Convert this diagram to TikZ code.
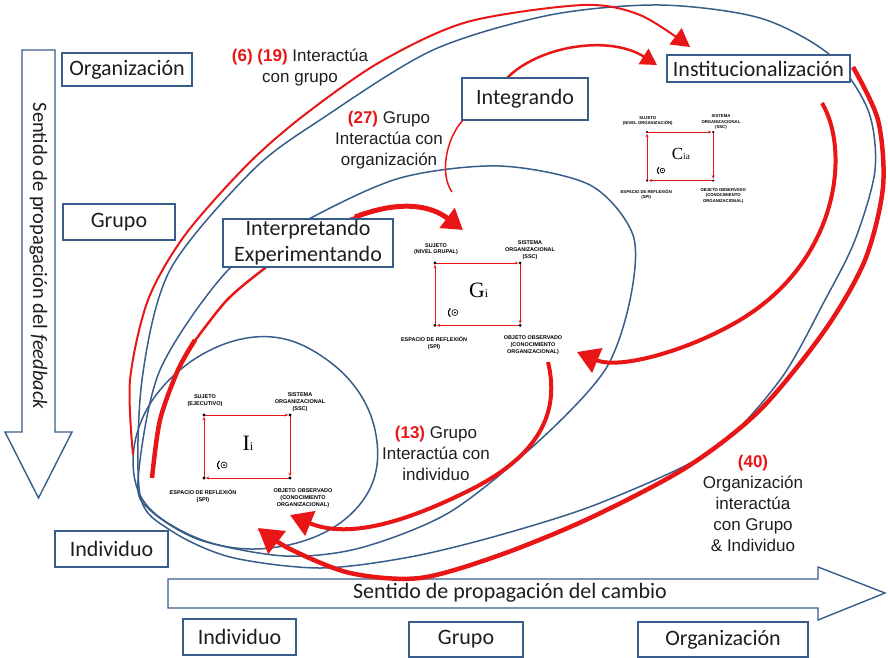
\documentclass[tikz,border=0pt]{standalone}
\usepackage{fontspec}
\setmainfont{Liberation Sans}
\newfontfamily\boxfont{Carlito}
\newfontfamily\serifname{Liberation Serif}
\usetikzlibrary{arrows.meta}
\definecolor{bl}{RGB}{56,93,138}
\definecolor{rd}{RGB}{232,22,22}
\definecolor{txt}{RGB}{30,30,30}
\newcommand\quadfig[7]{%
\begin{scope}[shift={(#1,#2)}, scale=#3, transform shape]
 \draw[qarrow] (0,0) -- (86,0);
 \draw[qarrow] (86,0) -- (86,63);
 \draw[qarrow] (86,63) -- (0,63);
 \draw[qarrow] (0,63) -- (0,0);
 \foreach \p in {(0,0),(86,0),(0,63),(86,63)} \fill \p circle (1.6);
 \node[tinylbl] (#7s) at (1,-14) {SUJETO\\(#4)};
 \node[tinylbl] (#7o) at (96,-13) {SISTEMA\\ORGANIZACIONAL\\(SSC)};
 \node[tinylbl] (#7e) at (-1,81) {ESPACIO DE REFLEXIÓN\\(SPI)};
 \node[tinylbl] (#7b) at (99,83) {OBJETO OBSERVADO\\(CONOCIMIENTO\\ORGANIZACIONAL)};
 \node[inner sep=0pt] (#7c) at (44,28) {\serifname\fontsize{22}{22}\selectfont #5{\fontsize{12}{12}\selectfont #6}};
 \draw[line width=1.1pt] (19,50) ++(130:5.5) arc[start angle=130, end angle=230, radius=5.5];
 \draw[line width=0.6pt] (20,50) circle (3);
 \fill (20,50) circle (1);
\end{scope}}
\begin{document}
\begin{tikzpicture}[x=1pt,y=-1pt,
 box/.style={draw=bl, line width=1.4pt, fill=white, font=\boxfont\fontsize{22}{26}\selectfont, inner sep=0pt, align=center, text=txt},
 bcurve/.style={draw=bl, line width=1.5pt},
 rcurve/.style={draw=rd, line width=2pt},
 lbl/.style={font=\fontsize{17}{21}\selectfont, align=center, text=txt},
 tinylbl/.style={font=\bfseries\fontsize{5.5}{6.8}\selectfont, align=center, inner sep=0pt},
 qarrow/.style={draw=rd, line width=0.9pt, -{Stealth[length=3.5pt,width=3pt]}, shorten >=1.8pt},
 bigarrow/.style={draw=bl, line width=1.4pt, fill=white},
 ]
\useasboundingbox (0,0) rectangle (888,657);

% big direction arrows
\draw[bigarrow] (22,50) -- (55,50) -- (55,432) -- (72,432) -- (38.5,498) -- (5,432) -- (22,432) -- cycle;
\node[rotate=-90, font=\boxfont\fontsize{20.5}{24}\selectfont, text=txt] (feedback) at (38.5,256) {Sentido de propagación del \textit{feedback}};
\draw[bigarrow] (168,579) -- (818,579) -- (818,567) -- (885,593) -- (818,620) -- (818,608) -- (168,608) -- cycle;
\node[font=\boxfont\fontsize{22}{26}\selectfont, text=txt] (cambio) at (510,593) {Sentido de propagación del cambio};

% blue ellipses
\draw[bcurve] plot[smooth cycle, tension=0.7] coordinates {(247,338) (330,362) (376,435) (355,510) (270,548) (180,530) (134,475) (160,390)};
\draw[bcurve] plot[smooth cycle] coordinates {(138,480) (160,370) (230,268) (307,220) (400,178) (500,166) (590,185) (633,235) (630,300) (605,370) (540,440) (450,512) (360,548) (285,556) (200,540) (150,510)};
\draw[bcurve] plot[smooth cycle] coordinates {(140,495) (142,380) (170,270) (253,170) (323,118) (433,50) (550,15) (660,5) (760,18) (830,55) (868,110) (875,170) (855,240) (825,300) (780,380) (713,450) (600,503) (500,535) (410,557) (320,568) (230,557) (170,530)};

% red curves
\draw[rcurve, -{Triangle[length=18pt,width=20pt]}] plot[smooth] coordinates {(133,455) (130,380) (148,300) (185,235) (247,165) (303,116) (380,62) (467,22) (583,5) (640,15) (690,47)};
\draw[rd, line width=4.5pt] plot[smooth] coordinates {(152,478) (160,420) (178,370) (195,340)};
\draw[rd, line width=2.5pt] plot[smooth] coordinates {(194,342) (227,300) (265,268) (310,235) (356,217)};
\draw[rd, line width=5pt, -{Triangle[length=20pt,width=24pt]}] (355,217) .. controls (400,200) and (430,205) .. (463,230);
\draw[rd, line width=2.5pt, -{Triangle[length=16pt,width=18pt]}] (507,78) .. controls (540,45) and (610,35) .. (657,65);
\draw[rd, line width=1.5pt] (463,120) .. controls (445,140) and (440,175) .. (452,192);
\draw[rd, line width=4pt, -{Triangle[length=22pt,width=26pt]}] (822,103) .. controls (850,150) and (840,260) .. (740,320) .. controls (690,350) and (620,370) .. (577,352);
\draw[rd, line width=4pt, -{Triangle[length=22pt,width=26pt]}] (548,362) .. controls (562,420) and (530,460) .. (470,490) .. controls (410,520) and (350,540) .. (290,515);
\draw[rd, line width=4.5pt, -{Triangle[length=24pt,width=28pt]}] plot[smooth] coordinates {(853,67) (878,120) (883,187) (865,260) (825,330) (760,410) (687,467) (590,518) (500,555) (420,578) (350,573) (290,549) (258,528)};

% boxes
\node[box, minimum width=130, minimum height=33] (orgL) at (127,69.5) {Organización};
\node[box, minimum width=112, minimum height=36] (grupoL) at (119,222) {Grupo};
\node[box, minimum width=113, minimum height=36] (indivL) at (111.5,549) {Individuo};
\node[box, minimum width=113, minimum height=36] (indivB) at (239.5,637) {Individuo};
\node[box, minimum width=114, minimum height=35] (grupoB) at (466,639.5) {Grupo};
\node[box, minimum width=170, minimum height=35] (orgB) at (723,639.5) {Organización};
\node[box, minimum width=183, minimum height=27] (inst) at (758.5,68.5) {Institucionalización};
\node[box, minimum width=126, minimum height=42] (integ) at (525,99) {Integrando};
\node[box, minimum width=170, minimum height=48] (interp) at (308,243) {Interpretando\\Experimentando};

% annotations
\node[lbl] (a6) at (300,67) {{\color{rd}\bfseries (6) (19)} Interactúa\\con grupo};
\node[lbl] (a27) at (389,140) {{\color{rd}\bfseries (27)} Grupo\\Interactúa con\\organización};
\node[lbl] (a13) at (436,453) {{\color{rd}\bfseries (13)} Grupo\\Interactúa con\\individuo};
\node[lbl] (a40) at (753,503) {{\color{rd}\bfseries (40)}\\Organización\\interactúa\\con Grupo\\\& Individuo};

% quad diagrams
\quadfig{204}{415}{1}{EJECUTIVO}{I}{i}{qi}
\quadfig{435}{263}{0.99}{NIVEL GRUPAL}{G}{i}{qg}
\quadfig{647}{132}{0.77}{NIVEL ORGANIZACIÓN}{C}{ia}{qc}
\end{tikzpicture}
\end{document}
